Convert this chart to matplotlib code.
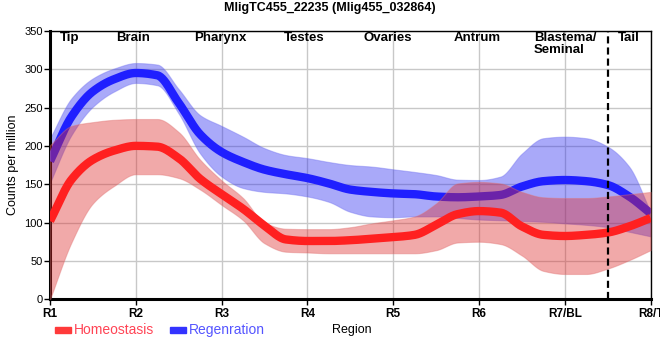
import numpy as np
import matplotlib
matplotlib.use("Agg")
import matplotlib.pyplot as plt
from matplotlib.patches import Rectangle

plt.rcParams['font.family'] = ['Liberation Sans', 'DejaVu Sans']

# ---- data ----
x_pos = [0, .25, .5, .75, 1, 1.25, 1.5, 1.75, 2, 2.25, 2.5, 2.75, 3, 3.25, 3.5,
         3.75, 4, 4.25, 4.5, 4.75, 5, 5.25, 5.5, 5.75, 6, 6.25, 6.5, 6.75, 7]
tick_labels = ["R1", "R2", "R3", "R4", "R5", "R6", "R7/BL", "R8/T"]
regions = ["Tip", "Brain", "Pharynx", "Testes", "Ovaries", "Antrum", "Blastema/\nSeminal", "Tail"]

homeo_mean = [102, 156, 182, 194, 200, 199, 184, 157, 137, 118, 96, 78, 76, 76, 77,
              79, 81, 84, 97, 111, 115, 113, 95, 84, 82.5, 84, 87, 95, 106]
homeo_upper = [201, 226, 231, 234, 235, 235, 218, 182, 155, 132, 100, 92, 91.5, 91.5, 94,
               99, 103, 108, 125, 151, 153, 151, 140, 133, 132, 132, 134, 137, 140]
homeo_lower = [0, 74, 125, 148, 163, 163, 158, 143, 123, 103, 73, 62, 61, 60, 60,
               60, 60, 60, 64, 74, 75, 72, 57, 37, 33, 33, 40, 51, 64]

regen_mean = [180, 238, 271, 287, 295, 292, 256, 215, 192, 179, 169, 163, 158, 151, 143,
              140, 138, 137, 134, 133, 134, 136, 147, 154, 155.5, 154, 149, 134, 112]
regen_upper = [210, 262, 288, 301, 308, 306, 274, 240, 226, 212, 197, 188, 184, 179, 175,
               173, 169.5, 166, 162, 156, 155.5, 160, 190, 210, 212, 210, 199, 173, 114]
regen_lower = [152, 214, 251, 271, 282, 279, 242, 190, 160, 145, 140, 138, 134, 127, 114,
               108, 107, 108, 108, 106, 104, 103, 102, 101, 99, 97, 94, 88, 82]


def pchip(x, y, xs):
    x = np.asarray(x, float); y = np.asarray(y, float)
    h = np.diff(x); d = np.diff(y) / h
    n = len(x); m = np.zeros(n)
    for k in range(1, n - 1):
        if d[k - 1] * d[k] <= 0:
            m[k] = 0.0
        else:
            w1 = 2 * h[k] + h[k - 1]; w2 = h[k] + 2 * h[k - 1]
            m[k] = (w1 + w2) / (w1 / d[k - 1] + w2 / d[k])
    m[0] = d[0]; m[-1] = d[-1]
    idx = np.clip(np.searchsorted(x, xs) - 1, 0, n - 2)
    t = (xs - x[idx]) / h[idx]
    h00 = 2 * t**3 - 3 * t**2 + 1; h10 = t**3 - 2 * t**2 + t
    h01 = -2 * t**3 + 3 * t**2; h11 = t**3 - t**2
    return h00 * y[idx] + h10 * h[idx] * m[idx] + h01 * y[idx + 1] + h11 * h[idx] * m[idx + 1]


W, H = 660, 360
fig = plt.figure(figsize=(6.6, 3.6), dpi=100)
L, R, T, B = 50, 650.6, 30.8, 299.3
ax = fig.add_axes([L / W, 1 - B / H, (R - L) / W, (B - T) / H])

xs = np.linspace(0, 7, 701)

ax.fill_between(xs, pchip(x_pos, regen_lower, xs), pchip(x_pos, regen_upper, xs),
                color='#2a2af0', alpha=0.4, linewidth=0.8, edgecolor='#7070f0', zorder=2)
ax.plot(xs, pchip(x_pos, regen_mean, xs), color='#1f1fff', lw=6, zorder=3,
        solid_capstyle='butt')
ax.fill_between(xs, pchip(x_pos, homeo_lower, xs), pchip(x_pos, homeo_upper, xs),
                color='#de2a2a', alpha=0.4, linewidth=0.8, edgecolor='#e07070', zorder=4)
ax.plot(xs, pchip(x_pos, homeo_mean, xs), color='#ff2020', lw=6, zorder=5,
        solid_capstyle='butt')

ax.axvline(6.5, color='black', lw=1.6, dashes=(3.2, 1.8), zorder=6)

ax.set_xlim(0, 7)
ax.set_ylim(0, 350)
ax.set_xticks(range(8))
ax.set_xticklabels(tick_labels, fontsize=8.5, fontweight='bold')
ax.set_yticks(range(0, 351, 50))
ax.tick_params(axis='y', labelsize=8, length=4, width=1, pad=1)
ax.tick_params(axis='x', length=4, width=1, pad=2)
ax.grid(True, color='#c8c8c8', lw=1, zorder=0)
ax.set_axisbelow(True)
for s in ['left', 'bottom']:
    ax.spines[s].set_linewidth(2.2)
for s in ['top', 'right']:
    ax.spines[s].set_linewidth(1.0)

# region labels (pixel left edges)
region_left = [60, 116, 194, 284, 363, 454, 534, 618]
for txt, px in zip(regions, region_left):
    fig.text(px / W, 1 - 32 / H, txt, ha='left', va='top', fontsize=9.5,
             fontweight='bold', linespacing=1.05)

fig.text(330 / W, 1 - 2 / H, "MligTC455_22235 (Mlig455_032864)", ha='center', va='top',
         fontsize=9, fontweight='bold')
fig.text(13 / W, 1 - 165 / H, "Counts per million", rotation=90, ha='center',
         va='center', fontsize=9)
fig.text(332 / W, 1 - 330 / H, "Region", ha='left', va='center', fontsize=9)

# legend
fig.add_artist(Rectangle((55 / W, 1 - 333 / H), 16 / W, 6 / H, transform=fig.transFigure,
                         color='#ff3a3a'))
fig.text(74 / W, 1 - 330 / H, "Homeostasis", ha='left', va='center', fontsize=10,
         color='#ff4455')
fig.add_artist(Rectangle((170 / W, 1 - 333 / H), 16 / W, 6 / H, transform=fig.transFigure,
                         color='#3333ff'))
fig.text(189 / W, 1 - 330 / H, "Regenration", ha='left', va='center', fontsize=10,
         color='#5555ff')

fig.savefig("out.png", dpi=100)
